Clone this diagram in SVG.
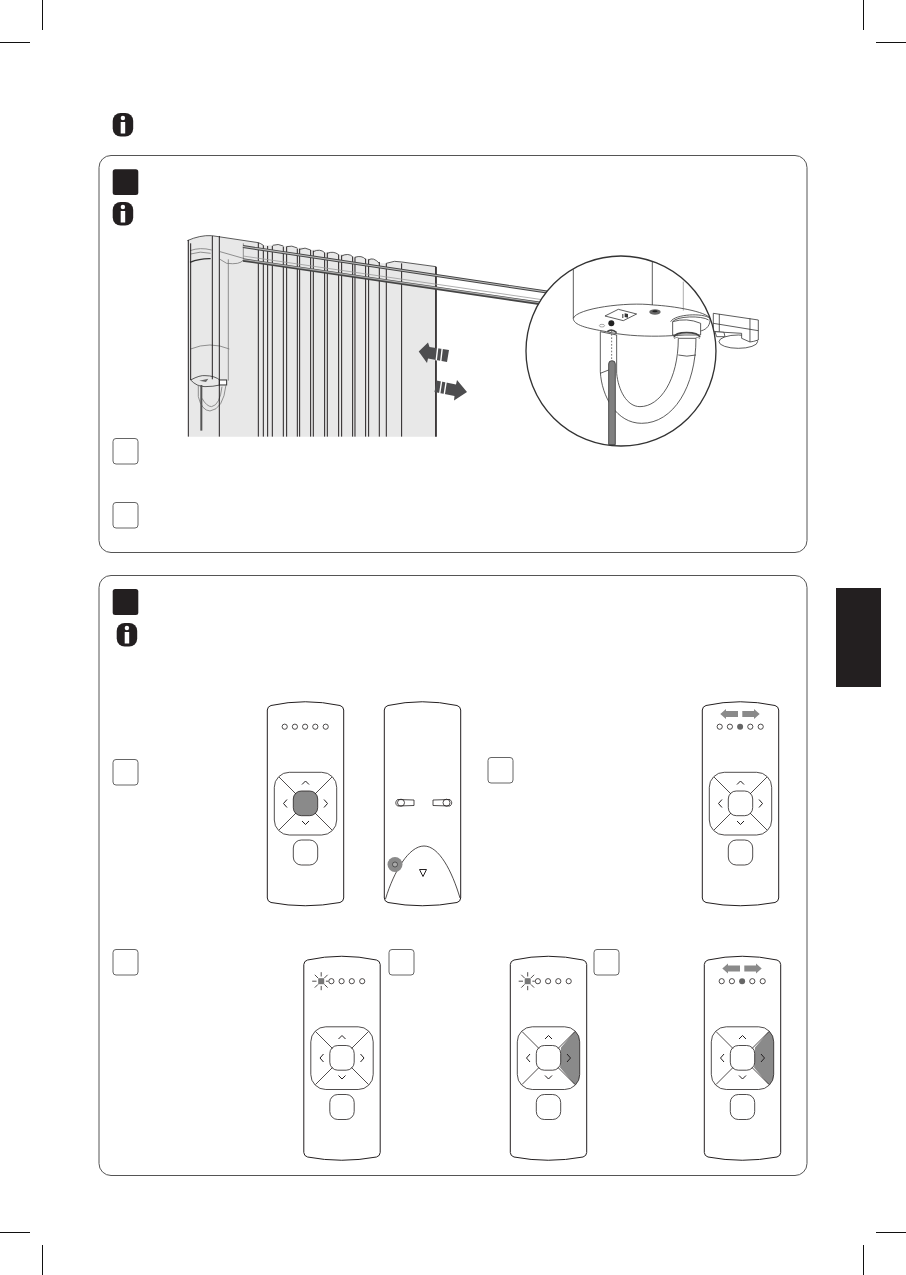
<svg xmlns="http://www.w3.org/2000/svg" xmlns:xlink="http://www.w3.org/1999/xlink" width="906" height="1275" viewBox="0 0 906 1275">
<style>
.crop{stroke:#111;stroke-width:1;fill:none}
.panel{fill:#fff;stroke:#555;stroke-width:1}
.num{fill:#fff;stroke:#666;stroke-width:1}
.blk{fill:#231f20}
.l{fill:none;stroke:#231f20;stroke-width:1}
.t{fill:none;stroke:#231f20;stroke-width:.8}
.z{fill:none;stroke:#333;stroke-width:2.4}
.y{fill:none;stroke:#777;stroke-width:2.4}
.v{stroke:#231f20;stroke-width:3;fill:none}
.g{fill:#8a8a8a}
.d{fill:#4d4d4f}
</style>
<defs>
<g id="icon"><rect x="0" y="0" width="20.500" height="23.500" rx="8" class="blk"/><circle cx="10.200" cy="5" r="2.200" fill="#fff"/><rect x="8" y="9" width="4.500" height="11.500" fill="#fff"/></g>
<path id="body" class="l" d="M.3,9Q.5,5.500 4,4.500Q38,-3 73,4.500Q76.500,5.500 76.700,9V197Q76.500,200.500 73,201.500Q38,208 4,201.500Q.5,200.500 .3,197Z" fill="#fff"/>
<g id="pad">
<rect x="7.300" y="71.300" width="62.400" height="62.700" rx="15" class="t"/>
<rect x="26.300" y="90" width="24.400" height="24.700" rx="8" class="t"/>
<path class="t" d="M12,76L29,93M65,76L48,93M12,129L29,112M65,129L48,112"/>
<path class="l" d="M35,83.500L38.500,80L42,83.500M35,120L38.500,123.500L42,120M20,98.500L16.500,102.500L20,106.500M57,98.500L60.500,102.500L57,106.500"/>
<rect x="26.300" y="139" width="24.400" height="25" rx="8" class="t"/>
</g>
<g id="dots" class="t"><circle cx="17.700" cy="25.700" r="2.600"/><circle cx="27.900" cy="25.700" r="2.600"/><circle cx="38.100" cy="25.700" r="2.600"/><circle cx="48.300" cy="25.700" r="2.600"/><circle cx="58.700" cy="25.700" r="2.600"/></g>
<g id="blink"><circle class="t" cx="27.900" cy="25.700" r="2.600"/><circle class="t" cx="38.100" cy="25.700" r="2.600"/><circle class="t" cx="48.300" cy="25.700" r="2.600"/><circle class="t" cx="58.700" cy="25.700" r="2.600"/><rect fill="#777" x="14.700" y="22.700" width="6" height="6"/><path class="t" stroke-width="1" d="M17.700,16.700V21M17.700,30.400V34.700M8.700,25.700H13M22.400,25.700H24.800M11.300,19.300L14.500,22.500M20.900,28.900L24.100,32.100M24.100,19.300L20.900,22.500M14.500,28.900L11.300,32.100"/></g>
<g id="lr"><path class="g" d="M18.300,13L24,8V10H36V16H24V18Z"/><path class="g" d="M57.700,13L52,8V10H40.300V16H52V18Z"/><circle class="t" cx="17.700" cy="25.700" r="2.600"/><circle class="t" cx="27.900" cy="25.700" r="2.600"/><circle cx="38.100" cy="25.700" r="3" fill="#666"/><circle class="t" cx="48.300" cy="25.700" r="2.600"/><circle class="t" cx="58.700" cy="25.700" r="2.600"/></g>
<path id="wedge" class="g" d="M51,92L65,75.500Q69.700,80 69.700,86.500V120Q69.700,125 65,129.500L50,112Q50.700,110 50.700,106.700V98Q50.700,94 51,92Z"/>
</defs>

<g id="crop-marks" class="crop"><path d="M42.500,0V30M0,42.500H30M863.500,0V30M876,42.500H906M42.500,1245V1275M0,1232.500H30M863.500,1245V1275M876,1232.500H906"/></g>
<rect id="side-tab" x="836" y="588" width="45" height="99" class="blk"/>
<use id="note-icon" xlink:href="#icon" href="#icon" x="112.700" y="113"/>

<g id="panel-1">
<rect class="panel" x="99" y="155.500" width="708" height="397" rx="12"/>
<rect class="blk" x="112.700" y="169.300" width="25.600" height="25.800" rx="2.500"/>
<use xlink:href="#icon" href="#icon" x="112.700" y="202"/>
<rect class="num" x="113" y="438.500" width="25" height="25.500" rx="3"/>
<rect class="num" x="113" y="502.500" width="25" height="25.500" rx="3"/>
</g>

<g id="curtain" transform="translate(100,100) scale(.3333)">
<path fill="#e8e8e8" d="M262,422Q300,405 335,407L475,428Q482,430 490,436L518,436Q535,430 550,438Q575,435 592,444Q615,440 632,450Q660,445 674,458Q700,452 716,464Q745,458 758,470Q785,465 797,478Q820,470 838,490L859,490Q885,480 905,486L1008,500V1010H265Z"/>
<path class="z" d="M262,422Q300,405 335,407L475,428Q482,430 490,436M518,436Q535,430 550,438M560,440Q575,435 592,444M599,448Q615,440 632,450M640,455Q660,445 674,458M682,460Q700,452 716,464M725,468Q745,458 758,470M765,472Q785,465 797,478M806,480Q820,470 838,490M859,490Q885,480 905,486L1008,500"/>
<path class="y" d="M270,452Q300,441 335,450M272,462Q300,452 332,460M360,455L430,475M430,430V478M360,478L380,490Q420,495 430,480"/>
<path stroke="#333" stroke-width="4" fill="none" d="M270,487Q300,475 332,476"/>
<path class="y" d="M385,478V842M272,747Q330,723 388,747"/>
<path class="z" d="M272,840Q300,825 315,827Q345,827 362,842M272,840Q290,860 315,860Q340,860 360,855"/>
<rect x="358" y="840" width="22" height="15" fill="#fff" stroke="#333" stroke-width="3"/>
<path class="y" d="M295,855V890Q305,932 330,933Q370,928 378,855M306,895Q320,920 335,920Q360,915 366,860"/>
<path stroke="#555" stroke-width="6" fill="none" d="M304,855V992"/>
<path d="M298,842L325,836L318,846Z" fill="#666"/>
<path class="v" d="M265,420V1010M272,430V840M337,408V838M358,408V1010M475,428V1010M490,436V1010M503,438V1010M517,438V1010M550,440V1010M560,440V1010M592,446V1010M599,446V1010M632,450V1010M640,452V1010M674,458V1010M682,458V1010M716,464V1010M725,466V1010M758,470V1010M765,472V1010M797,476V1010M806,478V1010M838,486V1010M859,490V1010M905,490V1010"/>
<path stroke="#231f20" stroke-width="5" fill="none" d="M1008,500V1010"/>
</g>

<g id="rail" fill="none">
<path stroke="#444" stroke-width="3" d="M243,246.500L547,292"/>
<path stroke="#bbb" stroke-width="1.100" d="M243,246.500L547,292"/>
<path stroke="#444" stroke-width="3.400" d="M243,260L541,303.500"/>
<path stroke="#aaa" stroke-width="1.200" d="M243,259.500L541,303"/>
<path stroke="#999" stroke-width=".8" d="M243,256L541,299.500"/>
</g>

<g id="arrows">
<path class="d" d="M418.700,351.500L428,342.500L429.500,347L449,350L447,362L428,358.500L427,363Z"/>
<path fill="#fff" d="M437,347.500h1.400l-1.500,13h-1.400zM441.500,348.500h1.400l-1.500,13h-1.400z"/>
<path class="d" d="M436.500,380.500L456,384.500L457,380L467,392L454,400.500L454.500,396L434.500,392Z"/>
<path fill="#fff" d="M441,380.500h1.400l-2,13h-1.400zM445.500,381.500h1.400l-2,13h-1.400z"/>
</g>

<g id="bracket" transform="translate(420,240) scale(.3333)">
<ellipse cx="955" cy="305" rx="58" ry="20" fill="#fff" stroke="#333" stroke-width="2.400"/>
<path fill="#fff" stroke="#333" stroke-width="2.400" d="M880,220L1015,240V300Q1000,305 990,306L965,295V280L880,275Z"/>
<path class="z" d="M880,250L1015,272M898,222V275M990,235V306"/>
<path fill="#fff" stroke="#333" stroke-width="2.400" d="M885,275L912,277L915,290L890,290Z"/>
</g>

<g id="magnifier" transform="translate(420,240) scale(.3333)">
<circle cx="603" cy="333" r="285" fill="#fff" stroke="#333" stroke-width="4"/>
<path class="z" d="M460,88V235M697,66V195"/>
<path fill="none" stroke="#999" stroke-width="2.400" d="M790,125V212"/>
<path class="z" fill="#fff" d="M460,235C470,205 620,185 700,195C760,198 860,215 870,235C872,255 860,268 845,272C800,292 640,295 560,275C500,265 460,255 460,235Z"/>
<path class="z" d="M555,228L595,208L650,222L610,242Z"/>
<path d="M607,222h3v12h-3zM614,220l10,2v11l-10,-2z" fill="#333"/>
<ellipse cx="705" cy="216" rx="17" ry="8" fill="#666"/>
<ellipse cx="705" cy="214" rx="8" ry="3" fill="#222"/>
<circle cx="574" cy="250" r="9" fill="#222"/>
<ellipse cx="546" cy="257" rx="8" ry="4" fill="none" stroke="#555" stroke-width="1.500"/>
<path class="z" d="M752,245C765,222 850,218 870,235M758,245C770,228 845,226 866,240"/>
<path fill="#fff" stroke="#333" stroke-width="2.400" d="M758,245V285H842V250Q800,232 758,245Z"/>
<path class="z" fill="#fff" d="M541,275V395C545,470 590,550 665,550C760,550 828,440 828,295H775C775,420 720,500 660,500C620,500 595,450 590,400V285Z"/>
<path fill="none" stroke="#444" stroke-width="5" d="M762,292Q765,278 800,278Q835,278 840,292"/>
<path class="y" d="M762,296Q775,288 775,295M828,295Q828,288 840,296"/>
<path class="z" d="M775,345Q800,352 828,345M541,400L566,390"/>
<path fill="none" stroke="#444" stroke-width="5" d="M562,275Q575,265 590,278"/>
<path stroke="#555" stroke-width="2.500" stroke-dasharray="5 5" d="M575,272V360"/>
<path fill="#808080" stroke="#333" stroke-width="2.400" d="M566,372Q566,362 576,362Q586,362 586,372V614H566Z"/>
</g>

<g id="panel-2">
<rect class="panel" x="99" y="575.500" width="708" height="600" rx="12"/>
<rect class="blk" x="112.700" y="589" width="25.600" height="26" rx="2.500"/>
<use xlink:href="#icon" href="#icon" x="116.700" y="623"/>
<rect class="num" x="113" y="759.500" width="25" height="25.500" rx="3"/>
<rect class="num" x="488" y="757.500" width="25" height="25.500" rx="3"/>
<rect class="num" x="113" y="949.500" width="25" height="25.500" rx="3"/>
<rect class="num" x="389" y="949.500" width="25" height="25.500" rx="3"/>
<rect class="num" x="594" y="949.500" width="25" height="25.500" rx="3"/>
</g>

<g id="remote-press-center" transform="translate(267,701)">
<use xlink:href="#body" href="#body"/><use xlink:href="#dots" href="#dots"/>
<rect x="26.300" y="90" width="24.400" height="24.700" rx="8" class="g"/>
<use xlink:href="#pad" href="#pad"/>
</g>

<g id="remote-back" transform="translate(384,701)">
<use xlink:href="#body" href="#body"/>
<path class="t" d="M13.500,98.500L30,99V104.500L13.500,105Q10,102 13.500,98.500ZM66,98.500L49,99V104.500L66,105Q69.500,102 66,98.500Z"/>
<circle class="t" cx="17" cy="101.700" r="3.500"/><circle class="t" cx="62.500" cy="101.700" r="3.500"/>
<path class="t" d="M1.500,198C10,170 25,145 40,145C55,145 68,170 76,197"/>
<path class="l" d="M35.500,168.500H42.500L39,175.500Z"/>
<circle cx="11" cy="163.500" r="7.500" fill="#8a8a8a"/>
<circle cx="11" cy="163.500" r="2.500" fill="#aaa" stroke="#333" stroke-width=".7"/>
</g>

<g id="remote-lr-top" transform="translate(702,701)">
<use xlink:href="#body" href="#body"/><use xlink:href="#lr" href="#lr"/><use xlink:href="#pad" href="#pad"/>
</g>

<g id="remote-blink" transform="translate(303.500,955.500)">
<use xlink:href="#body" href="#body"/><use xlink:href="#blink" href="#blink"/><use xlink:href="#pad" href="#pad"/>
</g>

<g id="remote-blink-right" transform="translate(510,955.500)">
<use xlink:href="#body" href="#body"/><use xlink:href="#blink" href="#blink"/><use xlink:href="#wedge" href="#wedge"/><use xlink:href="#pad" href="#pad"/>
</g>

<g id="remote-lr-right" transform="translate(704,955.500)">
<use xlink:href="#body" href="#body"/><use xlink:href="#lr" href="#lr"/><use xlink:href="#wedge" href="#wedge"/><use xlink:href="#pad" href="#pad"/>
</g>
</svg>
